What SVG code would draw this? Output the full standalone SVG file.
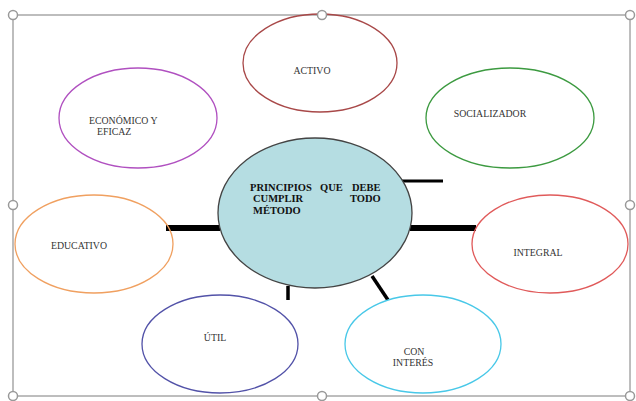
<svg xmlns="http://www.w3.org/2000/svg" width="636" height="401" viewBox="0 0 636 401">
<style>
.frame{fill:none;stroke:#a8a8a8;stroke-width:1.5}
.handle{fill:#fff;stroke:#999;stroke-width:1.5}
.node{fill:none;stroke-width:1.3}
.lbl{font-family:"Liberation Serif",serif;font-size:9.8px;fill:#333}
.ctr{font-family:"Liberation Serif",serif;font-size:10.5px;font-weight:bold;fill:#111}
.conn{stroke:#000;fill:none}
</style>
<rect width="636" height="401" fill="#fff"/>
<rect class="frame" x="13" y="15" width="617" height="381"/>
<g id="connectors">
<line class="conn" x1="166" y1="228" x2="220" y2="228" stroke-width="6"/>
<line class="conn" x1="410" y1="228" x2="476" y2="228" stroke-width="6"/>
<line class="conn" x1="402" y1="181" x2="443" y2="181" stroke-width="3"/>
<line class="conn" x1="288" y1="286" x2="288" y2="300" stroke-width="3.5"/>
<line class="conn" x1="372" y1="276" x2="388" y2="300" stroke-width="3.5"/>
</g>
<g id="center">
<ellipse cx="315" cy="213" rx="97" ry="75" fill="#b5dde2" stroke="#444" stroke-width="1.3"/>
<text class="ctr" x="250" y="191">PRINCIPIOS</text>
<text class="ctr" x="320" y="191">QUE</text>
<text class="ctr" x="352" y="191">DEBE</text>
<text class="ctr" x="253" y="202">CUMPLIR</text>
<text class="ctr" x="350" y="202">TODO</text>
<text class="ctr" x="253" y="214">MÉTODO</text>
</g>
<g id="activo">
<ellipse class="node" cx="320" cy="63" rx="77" ry="49" stroke="#a84848"/>
<text class="lbl" x="312" y="74" text-anchor="middle">ACTIVO</text>
</g>
<g id="socializador">
<ellipse class="node" cx="510" cy="118" rx="84" ry="50" stroke="#3c9a40"/>
<text class="lbl" x="490" y="117" text-anchor="middle">SOCIALIZADOR</text>
</g>
<g id="integral">
<ellipse class="node" cx="550" cy="244" rx="78" ry="49" stroke="#e05a5a"/>
<text class="lbl" x="538" y="256" text-anchor="middle">INTEGRAL</text>
</g>
<g id="con-interes">
<ellipse class="node" cx="423" cy="344" rx="78" ry="49" stroke="#48c8e8"/>
<text class="lbl" x="414" y="355" text-anchor="middle">CON</text>
<text class="lbl" x="413" y="366" text-anchor="middle">INTERÉS</text>
</g>
<g id="util">
<ellipse class="node" cx="220" cy="344" rx="78" ry="49" stroke="#5252a8"/>
<text class="lbl" x="215" y="341" text-anchor="middle">ÚTIL</text>
</g>
<g id="educativo">
<ellipse class="node" cx="94" cy="244" rx="79" ry="49" stroke="#f0a060"/>
<text class="lbl" x="79" y="249" text-anchor="middle">EDUCATIVO</text>
</g>
<g id="economico">
<ellipse class="node" cx="138" cy="118" rx="79" ry="50" stroke="#b050c0"/>
<text class="lbl" x="89" y="124">ECONÓMICO Y</text>
<text class="lbl" x="97" y="135">EFICAZ</text>
</g>
<g id="handles">
<circle class="handle" cx="13" cy="15" r="4.5"/>
<circle class="handle" cx="322" cy="15" r="4.5"/>
<circle class="handle" cx="630" cy="15" r="4.5"/>
<circle class="handle" cx="13" cy="205" r="4.5"/>
<circle class="handle" cx="630" cy="205" r="4.5"/>
<circle class="handle" cx="13" cy="396" r="4.5"/>
<circle class="handle" cx="322" cy="396" r="4.5"/>
<circle class="handle" cx="630" cy="396" r="4.5"/>
</g>
</svg>
